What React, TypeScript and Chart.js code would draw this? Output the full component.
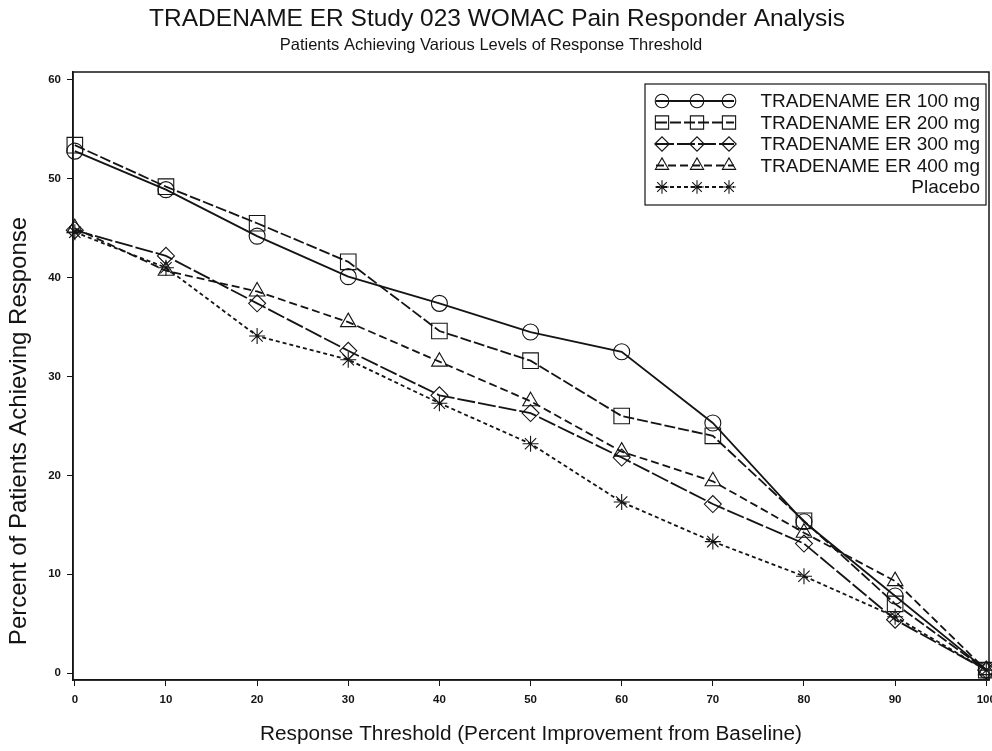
import React, { useEffect, useRef } from 'react';
import { Chart, registerables } from 'chart.js';
import { drawPoint } from 'chart.js/helpers';

Chart.register(...registerables);

const thresholds = [0, 10, 20, 30, 40, 50, 60, 70, 80, 90, 100];
const xTickValues = [0, 10, 20, 30, 40, 50, 60, 70, 80, 90, 100];
const yTickValues = [0, 10, 20, 30, 40, 50, 60];

const seriesNames = [
  'TRADENAME ER 100 mg',
  'TRADENAME ER 200 mg',
  'TRADENAME ER 300 mg',
  'TRADENAME ER 400 mg',
  'Placebo',
];

const er100 = [52.8, 48.9, 44.2, 40.1, 37.4, 34.5, 32.5, 25.3, 15.3, 7.8, 0.3];
const er200 = [53.4, 49.2, 45.5, 41.6, 34.6, 31.6, 26.0, 24.0, 15.4, 7.0, 0.3];
const er300 = [44.8, 42.2, 37.4, 32.6, 28.1, 26.3, 21.8, 17.1, 13.1, 5.4, 0.3];
const er400 = [45.0, 40.7, 38.6, 35.5, 31.5, 27.5, 22.4, 19.4, 14.2, 9.3, 0.3];
const placebo = [44.6, 41.0, 34.1, 31.7, 27.3, 23.2, 17.3, 13.3, 9.8, 5.7, 0.3];

const seriesValues = [er100, er200, er300, er400, placebo];
const pointStyles = ['circle', 'rect', 'rectRot', 'triangle', 'star'];
const pointRadii = [8, 11, 8.5, 9, 8];
const dashes: number[][] = [[], [11, 3], [18, 3], [8, 4], [4, 3]];

const INK = '#141414';
const FONT = '"Liberation Sans", Arial, sans-serif';

const titlePlugin = {
  id: 'titles',
  afterDraw(chart: any) {
    const ctx = chart.ctx;
    ctx.save();
    ctx.fillStyle = INK;
    ctx.textAlign = 'center';
    ctx.textBaseline = 'middle';
    ctx.font = `24.5px ${FONT}`;
    ctx.fillText('TRADENAME ER Study 023 WOMAC Pain Responder Analysis', 497, 19);
    ctx.font = `16.5px ${FONT}`;
    ctx.fillText('Patients Achieving Various Levels of Response Threshold', 491, 45);
    // y axis title
    ctx.translate(19, 431);
    ctx.rotate(-Math.PI / 2);
    ctx.font = `24px ${FONT}`;
    ctx.fillText('Percent of Patients Achieving Response', 0, 0);
    ctx.restore();
  },
};

const framePlugin = {
  id: 'frame',
  beforeDatasetsDraw(chart: any) {
    const { ctx, chartArea } = chart;
    ctx.save();
    ctx.strokeStyle = INK;
    ctx.lineWidth = 1.5;
    ctx.strokeRect(chartArea.left, chartArea.top, chartArea.right - chartArea.left, chartArea.bottom - chartArea.top);
    ctx.restore();
  },
};

const legendPlugin = {
  id: 'customLegend',
  afterDraw(chart: any) {
    const ctx = chart.ctx;
    const bx = 645, by = 84, bw = 341, bh = 121;
    ctx.save();
    ctx.fillStyle = '#fff';
    ctx.fillRect(bx, by, bw, bh);
    ctx.strokeStyle = INK;
    ctx.lineWidth = 1.2;
    ctx.strokeRect(bx, by, bw, bh);
    chart.data.datasets.forEach((ds: any, i: number) => {
      const y = 101 + i * 21.5;
      ctx.strokeStyle = INK;
      ctx.lineWidth = 1.8;
      ctx.setLineDash(ds.borderDash || []);
      ctx.beginPath();
      ctx.moveTo(656, y);
      ctx.lineTo(734, y);
      ctx.stroke();
      ctx.setLineDash([]);
      ctx.fillStyle = 'rgba(0,0,0,0)';
      ctx.lineWidth = 1.1;
      [662, 697, 729].forEach((px) => {
        drawPoint(ctx, { pointStyle: ds.pointStyle, rotation: 0, radius: ds.pointRadius * 0.85, borderWidth: 1.1 } as any, px, y);
      });
      ctx.fillStyle = INK;
      ctx.font = `19px ${FONT}`;
      ctx.textAlign = 'right';
      ctx.textBaseline = 'middle';
      ctx.fillText(ds.label, 980, y + 1);
    });
    ctx.restore();
  },
};

export default function App() {
  const ref = useRef<HTMLCanvasElement>(null);
  useEffect(() => {
    const canvas = ref.current;
    if (!canvas) return;
    const chart = new Chart(canvas, {
      type: 'line',
      data: {
        datasets: seriesNames.map((name, s) => ({
          label: name,
          data: thresholds.map((x, i) => ({ x, y: seriesValues[s][i] })),
          borderColor: INK,
          borderWidth: 1.8,
          borderDash: dashes[s],
          pointStyle: pointStyles[s] as any,
          pointRadius: pointRadii[s],
          pointBorderWidth: 1.1,
          pointBorderColor: INK,
          pointBackgroundColor: 'rgba(0,0,0,0)',
          fill: false,
          tension: 0,
          clip: false as any,
        })),
      },
      options: {
        responsive: false,
        animation: false,
        layout: { autoPadding: false, padding: { top: 72, right: 3, left: 0, bottom: 0 } },
        plugins: {
          legend: { display: false },
          tooltip: { enabled: false },
          title: { display: false },
        },
        scales: {
          x: {
            type: 'linear',
            min: -0.2,
            max: 100.3,
            afterBuildTicks: (s: any) => {
              s.ticks = xTickValues.map((v) => ({ value: v }));
            },
            afterFit: (s: any) => {
              s.height = 71;
              s.paddingLeft = 0;
              s.paddingRight = 0;
            },
            grid: { drawOnChartArea: false, tickLength: 6, color: INK, lineWidth: 1 },
            border: { color: INK, width: 1.5 },
            ticks: {
              color: INK,
              font: { family: FONT, size: 11.5, weight: 'bold' },
              padding: 7,
              maxRotation: 0,
              autoSkip: false,
            },
            title: {
              display: true,
              text: 'Response Threshold (Percent Improvement from Baseline)',
              color: INK,
              font: { family: FONT, size: 20.75 },
              padding: { top: 0, bottom: 4 },
            },
          },
          y: {
            type: 'linear',
            min: -0.7,
            max: 60.8,
            afterBuildTicks: (s: any) => {
              s.ticks = yTickValues.map((v) => ({ value: v }));
            },
            afterFit: (s: any) => {
              s.width = 73;
            },
            grid: { drawOnChartArea: false, tickLength: 6, color: INK, lineWidth: 1 },
            border: { color: INK, width: 1.5 },
            ticks: {
              color: INK,
              font: { family: FONT, size: 11.5, weight: 'bold' },
              padding: 6,
            },
          },
        },
      },
      plugins: [framePlugin, titlePlugin, legendPlugin],
    });
    return () => chart.destroy();
  }, []);
  return (
    <div style={{ position: 'fixed', left: 0, top: 0, width: 992, height: 751, background: '#fff' }}>
      <canvas ref={ref} width={992} height={751} style={{ display: 'block' }} />
    </div>
  );
}
